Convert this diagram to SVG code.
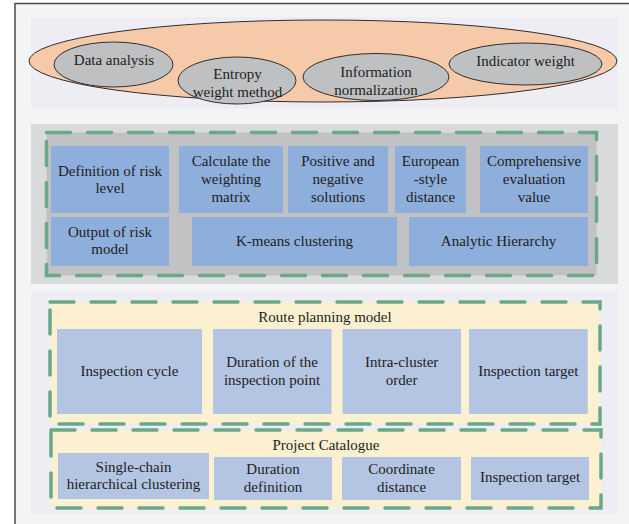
<svg xmlns="http://www.w3.org/2000/svg" width="629" height="524" viewBox="0 0 629 524">
<style>
text{font-family:"Liberation Serif","Times New Roman",serif;font-size:15px;fill:#1e1e1e;text-anchor:middle}
.oval{fill:#bfc0c2;stroke:#2e2e2e;stroke-width:1}
.blue{fill:#8eaedb}
.peri{fill:#b4c4e3}
.dash{stroke:#69a888;stroke-width:3.5;stroke-dasharray:24 17;stroke-linecap:round}
</style>
<rect x="0" y="0" width="629" height="524" fill="#ffffff"/>
<rect x="15" y="3.5" width="640" height="540" fill="#f3f4f4" stroke="#4a4a4a" stroke-width="1.5"/>
<g id="panel-weights">
<rect x="31" y="17" width="587" height="92" fill="#efedf4"/>
<ellipse cx="323" cy="61" rx="294" ry="41" fill="#f6caa9" stroke="#2e2e2e" stroke-width="1"/>
<g id="data-analysis"><ellipse class="oval" cx="113.5" cy="64.5" rx="59.5" ry="22.5"/><text x="114" y="65">Data analysis</text></g>
<g id="entropy"><ellipse class="oval" cx="237" cy="80.5" rx="59" ry="23.5"/><text x="237.5" y="79">Entropy</text><text x="237.5" y="97">weight method</text></g>
<g id="info-norm"><ellipse class="oval" cx="376" cy="77" rx="73" ry="23.5"/><text x="376" y="76.5">Information</text><text x="376" y="95">normalization</text></g>
<g id="indicator"><ellipse class="oval" cx="525.5" cy="64" rx="76.5" ry="21"/><text x="525.5" y="66">Indicator weight</text></g>
</g>
<g id="panel-risk">
<rect x="31" y="124" width="587" height="160" fill="#d9dadb"/>
<rect x="46.5" y="132.5" width="550" height="143" fill="#c2c2c4"/>
<g id="def-risk"><rect class="blue" x="51" y="146" width="118" height="67"/><text x="110" y="175.7">Definition of risk</text><text x="110" y="193.3">level</text></g>
<g id="calc-weight"><rect class="blue" x="179" y="146" width="104" height="67"/><text x="231" y="165.5">Calculate the</text><text x="231" y="183.5">weighting</text><text x="231" y="201.5">matrix</text></g>
<g id="pos-neg"><rect class="blue" x="288" y="146" width="100" height="67"/><text x="338" y="165.5">Positive and</text><text x="338" y="183.5">negative</text><text x="338" y="201.5">solutions</text></g>
<g id="european"><rect class="blue" x="395" y="146" width="71" height="67"/><text x="430.5" y="165.5">European</text><text x="430.5" y="183.5">-style</text><text x="430.5" y="201.5">distance</text></g>
<g id="comprehensive"><rect class="blue" x="480" y="146" width="108" height="67"/><text x="534" y="165.5">Comprehensive</text><text x="534" y="183.5">evaluation</text><text x="534" y="201.5">value</text></g>
<g id="output-risk"><rect class="blue" x="51" y="217" width="118" height="49"/><text x="110" y="236.7">Output of risk</text><text x="110" y="254">model</text></g>
<g id="kmeans"><rect class="blue" x="192" y="217" width="205" height="49"/><text x="294.5" y="245.5">K-means clustering</text></g>
<g id="ahp"><rect class="blue" x="409" y="217" width="179" height="49"/><text x="498.5" y="245.5">Analytic Hierarchy</text></g>
</g>
<g id="panel-route">
<rect x="31" y="291" width="587" height="223" fill="#efedf4"/>
<rect x="50" y="302" width="550" height="122" fill="#fbf0cf"/>
<rect x="51" y="430" width="550" height="78" fill="#fbf0cf"/>
<g id="route-model"><text x="325" y="321.5">Route planning model</text></g>
<g id="insp-cycle"><rect class="peri" x="57" y="329" width="145" height="85"/><text x="129.5" y="375.7">Inspection cycle</text></g>
<g id="duration-point"><rect class="peri" x="213" y="329" width="118.5" height="85"/><text x="272" y="366.7">Duration of the</text><text x="272" y="385">inspection point</text></g>
<g id="intra-cluster"><rect class="peri" x="342.5" y="329" width="118.5" height="85"/><text x="401.7" y="366.7">Intra-cluster</text><text x="401.7" y="385">order</text></g>
<g id="insp-target-1"><rect class="peri" x="469" y="329" width="118.7" height="85"/><text x="528.3" y="375.7">Inspection target</text></g>
<g id="project-catalogue"><text x="326" y="450">Project Catalogue</text></g>
<g id="single-chain"><rect class="peri" x="58" y="453" width="151" height="46"/><text x="133.5" y="471.7">Single-chain</text><text x="133.5" y="489">hierarchical clustering</text></g>
<g id="duration-def"><rect class="peri" x="214" y="457" width="118" height="43"/><text x="273" y="474">Duration</text><text x="273" y="491.7">definition</text></g>
<g id="coord-dist"><rect class="peri" x="342" y="457" width="119" height="43"/><text x="401.5" y="474">Coordinate</text><text x="401.5" y="491.7">distance</text></g>
<g id="insp-target-2"><rect class="peri" x="471" y="457" width="118" height="43"/><text x="530" y="482">Inspection target</text></g>
</g>
<g id="connectors" fill="none">
<rect class="dash" x="46.5" y="132.5" width="550" height="143"/>
<rect class="dash" x="50" y="302" width="550" height="122"/>
<rect class="dash" x="51" y="430" width="550" height="78"/>
</g>
</svg>
